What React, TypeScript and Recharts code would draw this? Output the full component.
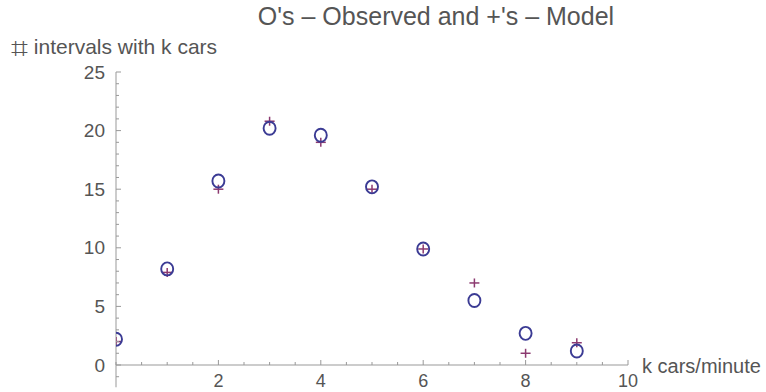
import React from "react";
import {
  ScatterChart,
  Scatter,
  XAxis,
  YAxis,
  ReferenceLine,
} from "recharts";

const kValues = [0, 1, 2, 3, 4, 5, 6, 7, 8, 9];
const observed = [2.2, 8.2, 15.7, 20.2, 19.6, 15.2, 9.9, 5.5, 2.7, 1.2];
const model = [2.0, 7.9, 15.0, 20.8, 19.0, 15.0, 9.9, 7.0, 1.0, 1.9];

const xTicks = [0, 0.5, 1, 1.5, 2, 2.5, 3, 3.5, 4, 4.5, 5, 5.5, 6, 6.5, 7, 7.5, 8, 8.5, 9, 9.5, 10];
const xLabels = [2, 4, 6, 8, 10];
const yTicks = [0, 1, 2, 3, 4, 5, 6, 7, 8, 9, 10, 11, 12, 13, 14, 15, 16, 17, 18, 19, 20, 21, 22, 23, 24, 25];
const yLabels = [0, 5, 10, 15, 20, 25];

const title = "O's \u2013 Observed and +'s \u2013 Model";
const yMark = "\u2317";
const yTitle = "intervals with k cars";
const xTitle = "k cars/minute";

const FONT = "'Liberation Sans', Arial, sans-serif";
const TEXT = "#555";
const AXIS = "#999";
const BLUE = "#3b3b94";
const PLUM = "#8c3a70";

const obsData = kValues.map((k, i) => ({ k, n: observed[i] }));
const modelData = kValues.map((k, i) => ({ k, n: model[i] }));

function XTick(props: any) {
  const { x, y, payload } = props;
  const v = payload.value;
  const major = xLabels.includes(v);
  return (
    <g>
      <line x1={x} x2={x} y1={y} y2={y - (major ? 5 : 3)} stroke={AXIS} />
      {major && (
        <text x={x} y={y + 22} textAnchor="middle" fontSize={18} fill={TEXT} fontFamily={FONT}>
          {v}
        </text>
      )}
    </g>
  );
}

function YTick(props: any) {
  const { x, y, payload } = props;
  const v = payload.value;
  const major = yLabels.includes(v);
  return (
    <g>
      <line x1={x} x2={x + (major ? 5 : 3)} y1={y} y2={y} stroke={AXIS} />
      {major && (
        <text x={x - 11} y={y + 6.5} textAnchor="end" fontSize={19} fill={TEXT} fontFamily={FONT}>
          {v}
        </text>
      )}
    </g>
  );
}

function Ring(props: any) {
  const { cx, cy } = props;
  return <ellipse cx={cx} cy={cy} rx={6} ry={6.5} fill="none" stroke={BLUE} strokeWidth={1.9} />;
}

function Plus(props: any) {
  const { cx, cy } = props;
  return (
    <g stroke={PLUM} strokeWidth={1.5}>
      <line x1={cx - 5} x2={cx + 5} y1={cy} y2={cy} />
      <line x1={cx} x2={cx} y1={cy - 4.5} y2={cy + 4.5} />
    </g>
  );
}

export default function App() {
  return (
    <div style={{ position: "absolute", left: 0, top: 0, width: 766, height: 392, background: "#fff", overflow: "hidden" }}>
      <ScatterChart
        width={766}
        height={392}
        margin={{ top: 72, right: 138, bottom: 26, left: 115 }}
        style={{ position: "absolute", left: 0, top: 0 }}
      >
        <XAxis
          type="number"
          dataKey="k"
          domain={[0, 10]}
          ticks={xTicks}
          interval={0}
          height={1}
          tickSize={0}
          tickMargin={0}
          tick={<XTick />}
          stroke={AXIS}
          allowDataOverflow
        />
        <YAxis
          type="number"
          dataKey="n"
          domain={[0, 25]}
          ticks={yTicks}
          interval={0}
          width={1}
          tickSize={0}
          tickMargin={0}
          tick={<YTick />}
          stroke={AXIS}
          allowDataOverflow
        />
        <ReferenceLine
          segment={[
            { x: 0, y: 0 },
            { x: 0, y: -1.9 },
          ]}
          stroke={AXIS}
          ifOverflow="visible"
        />
        <ReferenceLine
          segment={[
            { x: 0, y: -1 },
            { x: 0.06, y: -1 },
          ]}
          stroke={AXIS}
          ifOverflow="visible"
        />
        <Scatter data={modelData} shape={<Plus />} isAnimationActive={false} />
        <Scatter data={obsData} shape={<Ring />} isAnimationActive={false} />
      </ScatterChart>
      <div
        style={{
          position: "absolute",
          left: 0,
          width: 872,
          top: 0,
          textAlign: "center",
          fontFamily: FONT,
          fontSize: 25,
          lineHeight: "32px",
          color: TEXT,
          whiteSpace: "nowrap",
        }}
      >
        {title}
      </div>
      <div
        style={{
          position: "absolute",
          left: 11,
          top: 34,
          fontFamily: FONT,
          fontSize: 21,
          lineHeight: "26px",
          color: TEXT,
          whiteSpace: "nowrap",
        }}
      >
        <span style={{ fontFamily: "'DejaVu Sans', sans-serif", fontSize: 30, lineHeight: "20px", verticalAlign: "-4px" }}>
          {yMark}
        </span>{" "}
        {yTitle}
      </div>
      <div
        style={{
          position: "absolute",
          left: 642,
          top: 353,
          fontFamily: FONT,
          fontSize: 20,
          lineHeight: "26px",
          color: TEXT,
          whiteSpace: "nowrap",
        }}
      >
        {xTitle}
      </div>
    </div>
  );
}
